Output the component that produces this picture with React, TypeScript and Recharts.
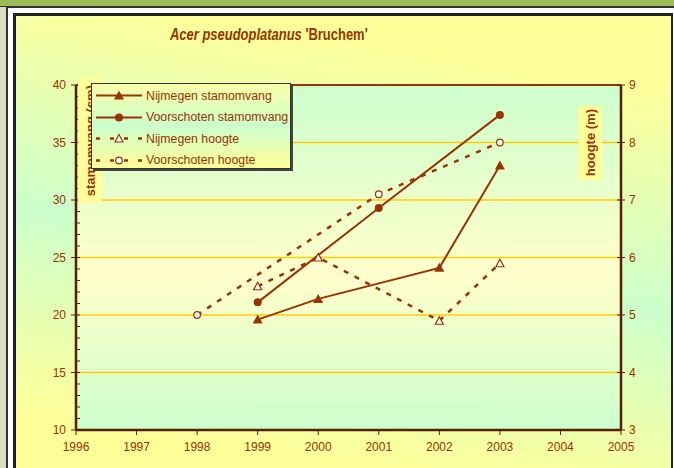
import React from "react";
import { ComposedChart, Line, XAxis, YAxis, CartesianGrid, ReferenceLine } from "recharts";

const years = [1998, 1999, 2000, 2001, 2002, 2003];
const nijmegenStam = [null, 19.6, 21.4, null, 24.1, 33.0];
const voorschotenStam = [null, 21.1, null, 29.3, null, 37.4];
const nijmegenHoogte = [null, 5.5, 6.0, null, 4.9, 5.9];
const voorschotenHoogte = [5.0, null, null, 7.1, null, 8.0];

const xTicks = [1996, 1997, 1998, 1999, 2000, 2001, 2002, 2003, 2004, 2005];
const rightTicks = [3, 4, 5, 6, 7, 8, 9];
const gridValues = [15, 20, 25, 30, 35];

// minor ticks every 1 cm on the left axis, labels only on multiples of 5
const leftTicks: number[] = [];
for (let v = 10; v <= 40; v++) leftTicks.push(v);

const BROWN = "#993300";
const AXIS = "#5a1e00";
const FONT = "'Liberation Sans', Arial, sans-serif";

const data = years.map((year, i) => ({
  year,
  nijStam: nijmegenStam[i],
  voorStam: voorschotenStam[i],
  nijHoogte: nijmegenHoogte[i],
  voorHoogte: voorschotenHoogte[i],
}));

type Shape = "triangle" | "circle" | "openTriangle" | "openCircle";

function Marker({ cx, cy, shape }: { cx?: number; cy?: number; shape: Shape }) {
  if (cx == null || cy == null || isNaN(cy)) return <g />;
  if (shape === "triangle")
    return <path d={`M${cx},${cy - 5} L${cx + 5},${cy + 4} L${cx - 5},${cy + 4} Z`} fill={BROWN} />;
  if (shape === "circle") return <circle cx={cx} cy={cy} r={4} fill={BROWN} />;
  if (shape === "openTriangle")
    return (
      <path
        d={`M${cx},${cy - 4} L${cx + 4},${cy + 3.5} L${cx - 4},${cy + 3.5} Z`}
        fill="#fff"
        stroke={BROWN}
        strokeWidth={1.2}
      />
    );
  return <circle cx={cx} cy={cy} r={3.3} fill="#fff" stroke={BROWN} strokeWidth={1.2} />;
}

const dotFor = (shape: Shape, name: string) => (p: any) =>
  <Marker key={`${name}-${p.index}`} cx={p.cx} cy={p.cy} shape={shape} />;

function LeftTick(props: any) {
  const { x, y, payload } = props;
  const major = payload.value % 5 === 0;
  return (
    <g>
      <line x1={major ? x - 5 : x} x2={x + 4} y1={y} y2={y} stroke={AXIS} strokeWidth={1} />
      {major && (
        <text x={x - 10} y={y} dy="0.35em" textAnchor="end" fill={BROWN} fontSize={12}>
          {payload.value}
        </text>
      )}
    </g>
  );
}

function RightTick(props: any) {
  const { x, y, payload } = props;
  return (
    <g>
      <line x1={x - 4} x2={x + 4} y1={y} y2={y} stroke={AXIS} strokeWidth={1} />
      <text x={x + 8} y={y} dy="0.35em" textAnchor="start" fill={BROWN} fontSize={12}>
        {payload.value}
      </text>
    </g>
  );
}

const legendItems: { label: string; shape: Shape; dashed: boolean }[] = [
  { label: "Nijmegen stamomvang", shape: "triangle", dashed: false },
  { label: "Voorschoten stamomvang", shape: "circle", dashed: false },
  { label: "Nijmegen hoogte", shape: "openTriangle", dashed: true },
  { label: "Voorschoten hoogte", shape: "openCircle", dashed: true },
];

function AxisTitle({ text, left, top, height }: { text: string; left: number; top: number; height: number }) {
  return (
    <div
      style={{
        position: "absolute",
        left,
        top,
        width: 24,
        height,
        background: "#FFFF99",
        display: "flex",
        alignItems: "center",
        justifyContent: "center",
      }}
    >
      <span
        style={{
          writingMode: "vertical-rl",
          transform: "rotate(180deg)",
          fontWeight: "bold",
          fontSize: 13,
          color: BROWN,
          whiteSpace: "nowrap",
        }}
      >
        {text}
      </span>
    </div>
  );
}

export default function App() {
  return (
    <div
      style={{
        position: "absolute",
        left: 0,
        top: 0,
        width: 674,
        height: 468,
        overflow: "hidden",
        background: "#fff",
        fontFamily: FONT,
      }}
    >
      {/* page frame */}
      <div style={{ position: "absolute", left: 0, top: 0, width: 674, height: 6, background: "#9BBB59" }} />
      <div style={{ position: "absolute", left: 0, top: 6, width: 674, height: 1.5, background: "#333" }} />
      <div style={{ position: "absolute", left: 0, top: 7, width: 6, height: 461, background: "#D8DFC2" }} />
      <div style={{ position: "absolute", left: 6, top: 7, width: 1.5, height: 461, background: "#333" }} />
      <div
        style={{
          position: "absolute",
          left: 13,
          top: 13,
          width: 660,
          height: 470,
          boxSizing: "border-box",
          borderLeft: "3px solid #222",
          borderTop: "3px solid #222",
          borderRight: "2px solid #222",
          background: "linear-gradient(189deg, #FFFF99 0%, #FFFF99 12%, #CCFFCC 52%, #FFFF99 88%, #FFFF99 100%)",
        }}
      />

      <div
        style={{
          position: "absolute",
          left: 170,
          top: 26,
          color: BROWN,
          fontSize: 16,
          fontWeight: "bold",
          whiteSpace: "nowrap",
          transform: "scaleX(0.81)",
          transformOrigin: "0 0",
        }}
      >
        <i>Acer pseudoplatanus</i> 'Bruchem'
      </div>

      <div style={{ position: "absolute", left: 0, top: 0 }}>
        <ComposedChart width={674} height={468} data={data} margin={{ top: 85, right: 13, left: 16, bottom: 8 }}>
          <defs>
            <linearGradient id="plotBg" x1="0" y1="0" x2="0" y2="1">
              <stop offset="0%" stopColor="#CCFFCC" />
              <stop offset="55%" stopColor="#FFFFCC" />
              <stop offset="100%" stopColor="#CCFFCC" />
            </linearGradient>
          </defs>
          <CartesianGrid
            yAxisId="left"
            vertical={false}
            horizontalValues={gridValues}
            stroke="#FFCC00"
            strokeWidth={1.5}
            fill="url(#plotBg)"
            fillOpacity={1}
          />
          <XAxis
            dataKey="year"
            type="number"
            domain={[1996, 2005]}
            ticks={xTicks}
            interval={0}
            height={30}
            tickSize={5}
            tickMargin={7}
            tick={{ fill: BROWN, fontSize: 12 }}
            tickLine={{ stroke: AXIS }}
            axisLine={{ stroke: AXIS, strokeWidth: 2.5 }}
          />
          <YAxis
            yAxisId="left"
            type="number"
            domain={[10, 40]}
            ticks={leftTicks}
            interval={0}
            width={60}
            tickSize={0}
            tickMargin={0}
            tickLine={false}
            tick={<LeftTick />}
            axisLine={{ stroke: AXIS, strokeWidth: 2.5 }}
          />
          <YAxis
            yAxisId="right"
            orientation="right"
            type="number"
            domain={[3, 9]}
            ticks={rightTicks}
            interval={0}
            width={40}
            tickSize={0}
            tickMargin={0}
            tickLine={false}
            tick={<RightTick />}
            axisLine={{ stroke: AXIS, strokeWidth: 2.5 }}
          />
          <ReferenceLine yAxisId="left" y={40} stroke={BROWN} strokeWidth={2} />
          <Line
            yAxisId="left"
            dataKey="nijStam"
            type="linear"
            stroke={BROWN}
            strokeWidth={2}
            connectNulls
            dot={dotFor("triangle", "ns")}
            activeDot={false}
            isAnimationActive={false}
          />
          <Line
            yAxisId="left"
            dataKey="voorStam"
            type="linear"
            stroke={BROWN}
            strokeWidth={2}
            connectNulls
            dot={dotFor("circle", "vs")}
            activeDot={false}
            isAnimationActive={false}
          />
          <Line
            yAxisId="right"
            dataKey="nijHoogte"
            type="linear"
            stroke={BROWN}
            strokeWidth={2.5}
            strokeDasharray="5 7"
            connectNulls
            dot={dotFor("openTriangle", "nh")}
            activeDot={false}
            isAnimationActive={false}
          />
          <Line
            yAxisId="right"
            dataKey="voorHoogte"
            type="linear"
            stroke={BROWN}
            strokeWidth={2.5}
            strokeDasharray="5 7"
            connectNulls
            dot={dotFor("openCircle", "vh")}
            activeDot={false}
            isAnimationActive={false}
          />
        </ComposedChart>
      </div>

      <AxisTitle text="stamomvang (cm)" left={78} top={78} height={125} />
      <AxisTitle text="hoogte (m)" left={578} top={106} height={74} />

      <div
        style={{
          position: "absolute",
          left: 91,
          top: 83,
          width: 200,
          height: 86,
          boxSizing: "border-box",
          border: "1px solid #333",
          boxShadow: "2px 2px 0 #444",
          background: "linear-gradient(180deg, #F8FFA8 0%, #CCFFCC 50%, #FFFF99 100%)",
        }}
      >
        {legendItems.map((item, i) => (
          <div
            key={item.label}
            style={{
              position: "absolute",
              left: 3,
              top: 1 + i * 21.5,
              height: 21,
              display: "flex",
              alignItems: "center",
            }}
          >
            <svg width={48} height={21}>
              <line
                x1={1}
                x2={47}
                y1={10.5}
                y2={10.5}
                stroke={BROWN}
                strokeWidth={item.dashed ? 2.5 : 2}
                strokeDasharray={item.dashed ? "4 10" : undefined}
              />
              <Marker cx={24} cy={10.5} shape={item.shape} />
            </svg>
            <span style={{ marginLeft: 3, fontSize: 12.3, color: BROWN, whiteSpace: "nowrap" }}>{item.label}</span>
          </div>
        ))}
      </div>
    </div>
  );
}
